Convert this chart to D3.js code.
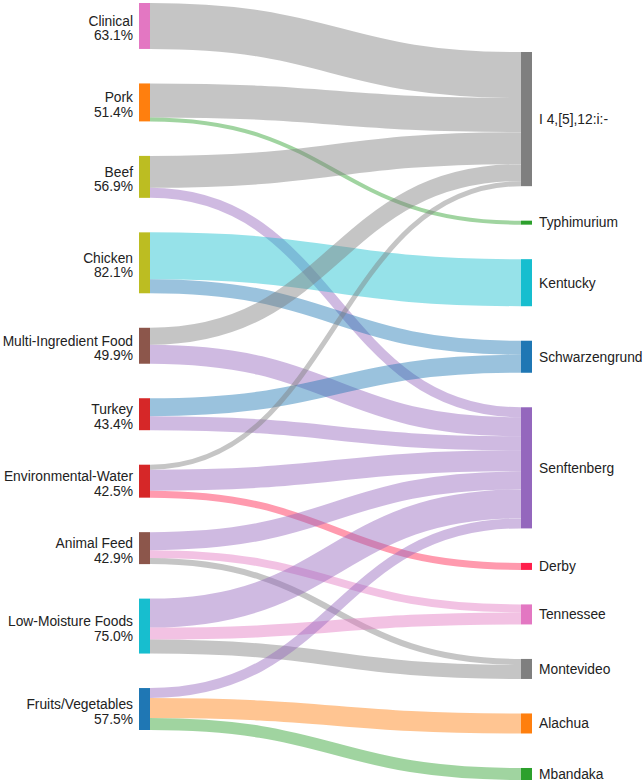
<!DOCTYPE html>
<html>
<head>
<meta charset="utf-8">
<script src="https://cdn.jsdelivr.net/npm/d3@7"></script>
<style>
  html, body { margin: 0; padding: 0; background: #fff; }
  text { font-family: "Liberation Sans", Arial, Helvetica, sans-serif; fill: #222; }
</style>
</head>
<body>
<div id="chart"></div>
<script>
// sources (left column)
const sources = ["Clinical", "Pork", "Beef", "Chicken", "Multi-Ingredient Food", "Turkey",
  "Environmental-Water", "Animal Feed", "Low-Moisture Foods", "Fruits/Vegetables"];
const sourcePct = ["63.1%", "51.4%", "56.9%", "82.1%", "49.9%", "43.4%", "42.5%", "42.9%", "75.0%", "57.5%"];
const sourceColors = ["#e377c2", "#ff7f0e", "#bcbd22", "#bcbd22", "#8c564b", "#d62728",
  "#d62728", "#8c564b", "#17becf", "#1f77b4"];

// serotypes (right column)
const serotypes = ["I 4,[5],12:i:-", "Typhimurium", "Kentucky", "Schwarzengrund", "Senftenberg",
  "Derby", "Tennessee", "Montevideo", "Alachua", "Mbandaka"];
const serotypeColors = ["#7f7f7f", "#2ca02c", "#17becf", "#1f77b4", "#9467bd",
  "#ff1f4b", "#e377c2", "#7f7f7f", "#ff7f0e", "#2ca02c"];

// links: source index -> serotype index
const linkSource = [0, 1, 1, 2, 2, 3, 3, 4, 4, 5, 5, 6, 6, 6, 7, 7, 7, 8, 8, 8, 9, 9, 9];
const linkTarget = [0, 0, 1, 0, 4, 2, 3, 0, 4, 3, 4, 0, 4, 5, 4, 6, 7, 4, 6, 7, 4, 8, 9];
const linkValue  = [46, 34, 4, 32, 10, 47, 14, 17, 19, 18, 14, 5, 21, 7, 18, 8, 6, 29, 12, 14, 10, 20, 12];

const width = 644;
const height = 783;
const nodeWidth = 11;
const nodePad = 34.5;
const fontSize = 13.8;

const svg = d3.select("#chart").append("svg")
  .attr("width", width)
  .attr("height", height);

const links = linkValue.map((v, i) => ({ source: linkSource[i], target: linkTarget[i], value: v }));
const total = d3.sum(linkValue);

const colX = d3.scaleLinear().domain([0, 1]).range([139, 521]);
const colExtent = [[3, 730], [52, 780]];

function layoutColumn(names, colors, col, key) {
  const [top, bottom] = colExtent[col];
  const y = d3.scaleLinear().domain([0, total])
    .range([0, (bottom - top) - nodePad * (names.length - 1)]);
  let cursor = top;
  return names.map((name, i) => {
    const value = d3.sum(links.filter(l => l[key] === i), l => l.value);
    const node = { name, color: colors[i], index: i, value,
      x0: colX(col), x1: colX(col) + nodeWidth, y0: cursor, y1: cursor + y(value), y };
    cursor = node.y1 + nodePad;
    return node;
  });
}

const left = layoutColumn(sources, sourceColors, 0, "source");
const right = layoutColumn(serotypes, serotypeColors, 1, "target");

// stack links within each node
left.forEach(n => {
  let c = n.y0;
  links.filter(l => l.source === n.index).sort((a, b) => a.target - b.target).forEach(l => {
    l.width = n.y(l.value);
    l.sy = c + l.width / 2;
    c += l.width;
  });
});
right.forEach(n => {
  let c = n.y0;
  links.filter(l => l.target === n.index).sort((a, b) => a.source - b.source).forEach(l => {
    const w = n.y(l.value);
    l.ty = c + w / 2;
    c += w;
  });
});

const linkPath = d3.linkHorizontal()
  .source(d => [left[d.source].x1, d.sy])
  .target(d => [right[d.target].x0, d.ty]);

svg.append("g")
  .attr("fill", "none")
  .selectAll("path")
  .data(links)
  .join("path")
  .attr("d", linkPath)
  .attr("stroke", d => right[d.target].color)
  .attr("stroke-opacity", 0.45)
  .attr("stroke-width", d => d.width);

svg.append("g")
  .selectAll("rect")
  .data(left.concat(right))
  .join("rect")
  .attr("x", d => d.x0)
  .attr("y", d => d.y0)
  .attr("width", d => d.x1 - d.x0)
  .attr("height", d => Math.max(1, d.y1 - d.y0))
  .attr("fill", d => d.color);

// left labels: name + percentage
const lt = svg.append("g")
  .selectAll("text")
  .data(left)
  .join("text")
  .attr("text-anchor", "end")
  .style("font-size", fontSize + "px");
lt.append("tspan")
  .attr("x", d => d.x0 - 6)
  .attr("y", d => (d.y0 + d.y1) / 2)
  .text(d => d.name);
lt.append("tspan")
  .attr("x", d => d.x0 - 6)
  .attr("y", d => (d.y0 + d.y1) / 2 + 14.5)
  .text((d, i) => sourcePct[i]);

// right labels
svg.append("g")
  .selectAll("text")
  .data(right)
  .join("text")
  .attr("x", d => d.x1 + 7)
  .attr("y", d => (d.y0 + d.y1) / 2)
  .attr("dy", "0.35em")
  .style("font-size", fontSize + "px")
  .text(d => d.name);
</script>
</body>
</html>
